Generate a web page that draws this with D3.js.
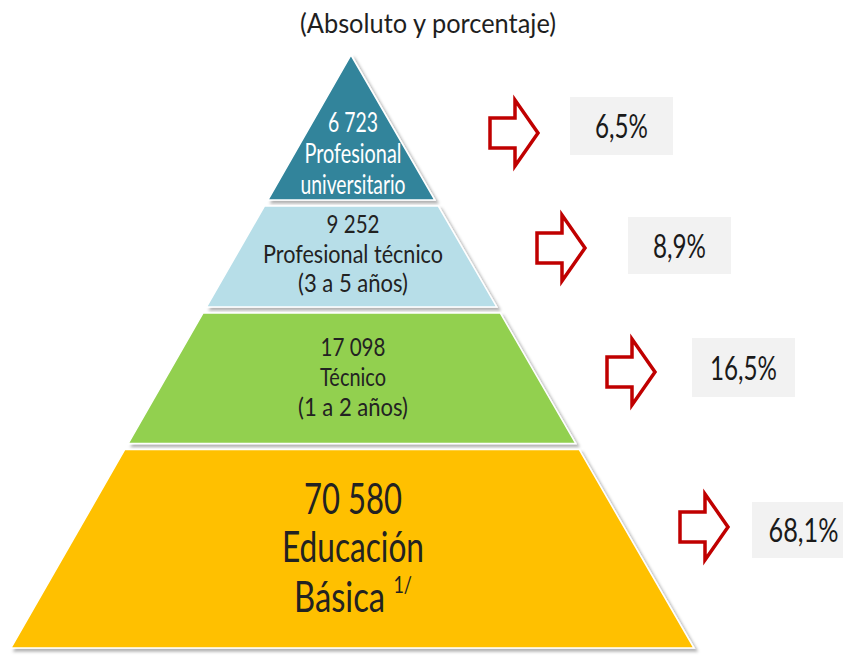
<!DOCTYPE html>
<html><head><meta charset="utf-8">
<script src="https://cdn.jsdelivr.net/npm/d3@7"></script>
<style>body{margin:0;background:#fff} svg{display:block}</style>
</head><body><svg id="c" width="843" height="659"></svg>
<script>
// ---- data ----
const title = "(Absoluto y porcentaje)";
const levels = ["Profesional universitario", "Profesional técnico", "Técnico", "Educación Básica"];
const values = [6723, 9252, 17098, 70580];
const labelLines = [["Profesional", "universitario"], ["Profesional técnico", "(3 a 5 años)"], ["Técnico", "(1 a 2 años)"], ["Educación", "Básica"]];
const footnotes = ["", "", "", "1/"];
const percents = [6.5, 8.9, 16.5, 68.1];
const colors = ["#31849B", "#B7DEE8", "#92D050", "#FFC000"];

// ---- layout ----
const breaks = [0, 0.2496, 0.4300, 0.6602, 1];
const gap = 6;
const apex = {x: 351, y: 55}, baseY = 648, baseL = 11, baseR = 694;
const textLayout = [
  {base: [132, 163, 194], cap: 19, w: [50, 97, 105], color: "#ffffff"},
  {base: [233, 263, 292], cap: 18, w: [53, 180, 110], color: "#222222"},
  {base: [356, 386, 416], cap: 18, w: [65, 66, 110], color: "#222222"},
  {base: [514, 562, 612], cap: 30, w: [98, 142, 118], color: "#222222"}
];
const arrowPos = [[490, 133], [537, 248], [607, 372], [680, 527]];
const boxPos = [[570, 97, 103, 58], [628, 217, 103, 57], [692, 338, 103, 59], [752, 502, 103, 56]];
const pctW = [53, 53, 67, 70];

const svg = d3.select("#c");
const defs = svg.append("defs");
const f = defs.append("filter").attr("id", "sh").attr("x", "-10%").attr("y", "-10%").attr("width", "130%").attr("height", "130%");
f.append("feDropShadow").attr("dx", 3).attr("dy", 3).attr("stdDeviation", 1.5).attr("flood-color", "#000").attr("flood-opacity", 0.3);

const yS = d3.scaleLinear().domain([0, 1]).range([apex.y, baseY]);
const xL = d3.scaleLinear().domain([apex.y, baseY]).range([apex.x, baseL]);
const xR = d3.scaleLinear().domain([apex.y, baseY]).range([apex.x, baseR]);

const fmtN = v => d3.format(",")(v).replace(/,/g, " ");
const fmtP = v => d3.format(".1f")(v).replace(".", ",") + "%";
const FONT = "Lato, 'Open Sans', sans-serif";

function fitText(g, str, cx, baseline, capH, targetW, color, sup) {
  const fs = capH / 0.72;
  const t = g.append("text").attr("font-family", FONT).attr("font-size", fs)
    .attr("fill", color).attr("text-anchor", "middle");
  t.append("tspan").text(str);
  if (sup) t.append("tspan").attr("font-size", fs * 0.55).attr("dy", -capH * 0.62).text(sup);
  const w = t.node().getBBox().width;
  t.attr("transform", `translate(${cx},${baseline}) scale(${targetW / w},1)`);
  return t;
}

// title
fitText(svg, title, 428, 33, 20, 256, "#1f1f1f");

// pyramid layers
const layers = levels.map((name, i) => {
  const y0 = yS(breaks[i]) + (i > 0 ? gap / 2 : 0);
  const y1 = yS(breaks[i + 1]) - (i < levels.length - 1 ? gap / 2 : 0);
  return {i, y0, y1};
});
svg.append("g").selectAll("path").data(layers).join("path")
  .attr("d", d => {
    const pts = d.i === 0
      ? [[apex.x, d.y0], [xR(d.y1), d.y1], [xL(d.y1), d.y1]]
      : [[xL(d.y0), d.y0], [xR(d.y0), d.y0], [xR(d.y1), d.y1], [xL(d.y1), d.y1]];
    return d3.line()(pts) + "Z";
  })
  .attr("fill", d => colors[d.i])
  .attr("stroke", "#ffffff").attr("stroke-width", 1.5)
  .attr("filter", "url(#sh)");

// layer labels
const tg = svg.append("g");
layers.forEach(d => {
  const L = textLayout[d.i];
  const lines = [fmtN(values[d.i])].concat(labelLines[d.i]);
  lines.forEach((s, k) => {
    const isLast = k === lines.length - 1;
    fitText(tg, isLast && footnotes[d.i] ? s + " " : s, apex.x + 2, L.base[k], L.cap, L.w[k], L.color,
      isLast ? footnotes[d.i] : null);
  });
});

// arrows
const arrowPts = [[0, -15], [25, -15], [25, -33], [48, 0], [25, 33], [25, 15], [0, 15]];
svg.append("g").selectAll("path").data(percents).join("path")
  .attr("transform", (d, i) => `translate(${arrowPos[i][0]},${arrowPos[i][1]})`)
  .attr("d", d3.line()(arrowPts) + "Z")
  .attr("fill", "#ffffff").attr("stroke", "#C00000").attr("stroke-width", 3.5)
  .attr("stroke-linejoin", "miter");

// percent boxes
const bg = svg.append("g");
percents.forEach((p, i) => {
  const [x, y, w, h] = boxPos[i];
  bg.append("rect").attr("x", x).attr("y", y).attr("width", w).attr("height", h).attr("fill", "#F2F2F2");
  fitText(bg, fmtP(p), x + w / 2, y + h / 2 + 12, 23, pctW[i], "#1a1a1a");
});
</script></body></html>
